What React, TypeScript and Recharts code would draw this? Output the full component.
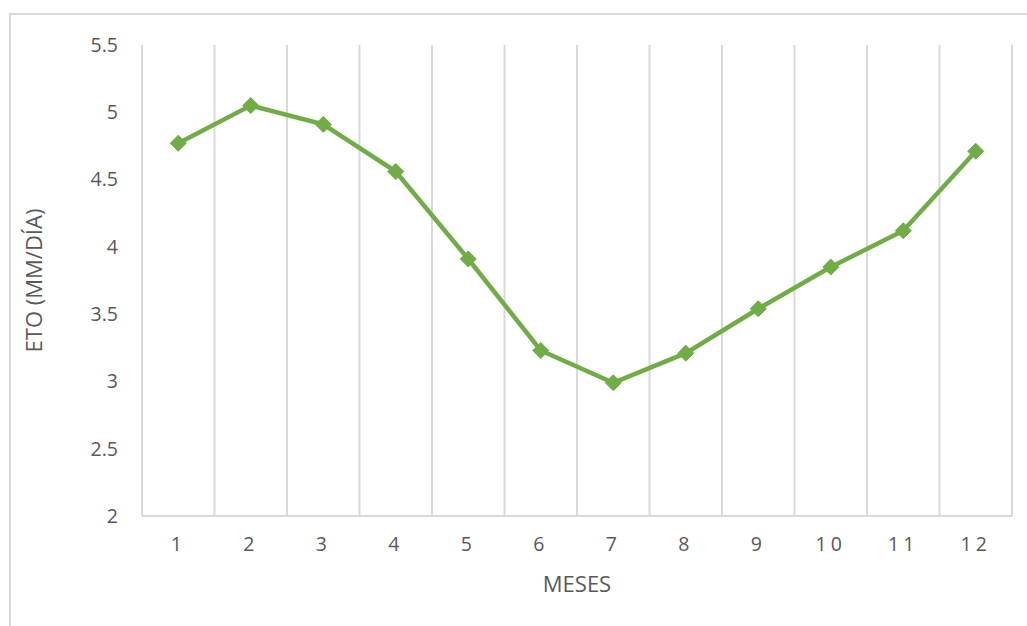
import React from "react";
import {
  LineChart,
  Line,
  XAxis,
  YAxis,
  ReferenceLine,
} from "recharts";

const months = [1, 2, 3, 4, 5, 6, 7, 8, 9, 10, 11, 12];
const eto = [4.77, 5.05, 4.91, 4.56, 3.91, 3.23, 2.99, 3.21, 3.54, 3.85, 4.12, 4.71];
const yTicks = [2, 2.5, 3, 3.5, 4, 4.5, 5, 5.5];

const GREEN = "#70AD47";
const GRID = "#d9d9d9";
const TEXT = "#595959";
const FONT = "'Open Sans', sans-serif";

const data = months.map((m, i) => ({ month: m, eto: eto[i] }));
// gridlines sit between categories, like Excel's "between tick marks"
const boundaries = [months[0] - 0.5, ...months.map((m) => m + 0.5)];

const Diamond = (props: any) => {
  const { cx, cy } = props;
  if (cx == null || cy == null) return null;
  const r = 8;
  return (
    <path
      d={`M${cx},${cy - r} L${cx + r},${cy} L${cx},${cy + r} L${cx - r},${cy} Z`}
      fill={GREEN}
      stroke={GREEN}
    />
  );
};

const YLabel = (props: any) => {
  const { viewBox } = props;
  const x = viewBox.x + 22;
  const y = viewBox.y + viewBox.height / 2;
  return (
    <text
      x={x}
      y={y}
      transform={`rotate(-90, ${x}, ${y})`}
      textAnchor="middle"
      dominantBaseline="central"
      fill={TEXT}
      fontSize={22}
      fontFamily={FONT}
    >
      ETO (MM/DÍA)
    </text>
  );
};

const XLabel = (props: any) => {
  const { viewBox } = props;
  return (
    <text
      x={viewBox.x + viewBox.width / 2}
      y={viewBox.y + 67}
      textAnchor="middle"
      dominantBaseline="central"
      fill={TEXT}
      fontSize={22}
      fontFamily={FONT}
    >
      MESES
    </text>
  );
};

export default function App() {
  return (
    <div
      style={{
        position: "absolute",
        left: 9,
        top: 13,
        width: 1030,
        height: 630,
        borderLeft: `2px solid ${GRID}`,
        borderTop: `2px solid ${GRID}`,
        background: "#fff",
      }}
    >
      <LineChart
        width={1016}
        height={611}
        data={data}
        margin={{ top: 30, right: 15, bottom: 30, left: 0 }}
      >
        {boundaries.map((b) => (
          <ReferenceLine key={b} x={b} stroke={GRID} strokeWidth={2} />
        ))}
        <XAxis
          dataKey="month"
          type="number"
          domain={[0.5, 12.5]}
          ticks={months}
          height={80}
          tickLine={false}
          tickMargin={15}
          axisLine={{ stroke: GRID, strokeWidth: 2 }}
          tick={{ fill: TEXT, fontSize: 19.5, fontFamily: FONT, letterSpacing: 4 }}
          label={<XLabel />}
        />
        <YAxis
          domain={[2, 5.5]}
          ticks={yTicks}
          width={131}
          axisLine={false}
          tickLine={false}
          tickMargin={18}
          tick={{ fill: TEXT, fontSize: 19.5, fontFamily: FONT }}
          label={<YLabel />}
        />
        <Line
          type="linear"
          dataKey="eto"
          stroke={GREEN}
          strokeWidth={4.5}
          dot={<Diamond />}
          activeDot={false}
          isAnimationActive={false}
        />
      </LineChart>
    </div>
  );
}
